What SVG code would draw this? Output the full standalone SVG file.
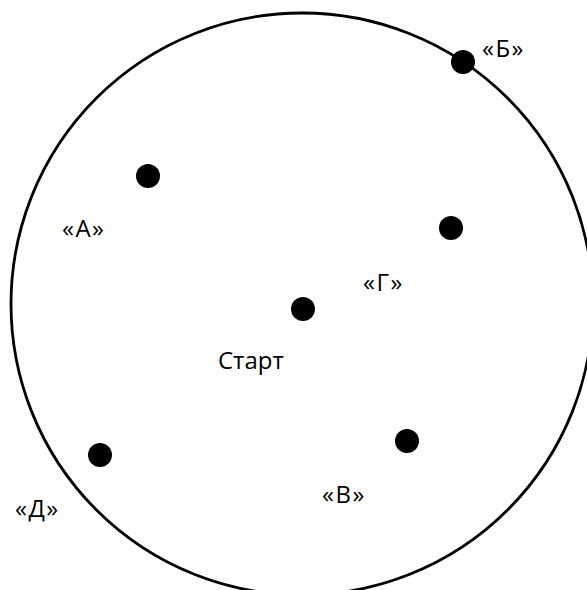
<svg xmlns="http://www.w3.org/2000/svg" width="587" height="590" viewBox="0 0 587 590">
<style>
.bg{fill:#fff}
.ring{fill:none;stroke:#000;stroke-width:2.8}
.dot{fill:#000}
.lbl{font-family:"Open Sans","Noto Sans","Liberation Sans",sans-serif;font-size:24px;fill:#000}
.q{letter-spacing:1.5px}
</style>
<rect class="bg" x="0" y="0" width="587" height="590"/>
<g id="field"><circle class="ring" cx="302" cy="304" r="291"/></g>
<g id="connectors"></g>
<g id="start"><circle class="dot" cx="303" cy="309" r="12"/><text class="lbl" x="218" y="369">Старт</text></g>
<g id="pointA"><circle class="dot" cx="148" cy="176" r="12"/><text class="lbl q" x="62" y="237">«А»</text></g>
<g id="pointB"><circle class="dot" cx="463" cy="62" r="12"/><text class="lbl q" x="482" y="57">«Б»</text></g>
<g id="pointV"><circle class="dot" cx="407" cy="441" r="12"/><text class="lbl q" x="322" y="503">«В»</text></g>
<g id="pointG"><circle class="dot" cx="451" cy="228" r="12"/><text class="lbl q" x="363" y="291">«Г»</text></g>
<g id="pointD"><circle class="dot" cx="100" cy="455" r="12"/><text class="lbl q" x="15" y="517">«Д»</text></g>
</svg>
